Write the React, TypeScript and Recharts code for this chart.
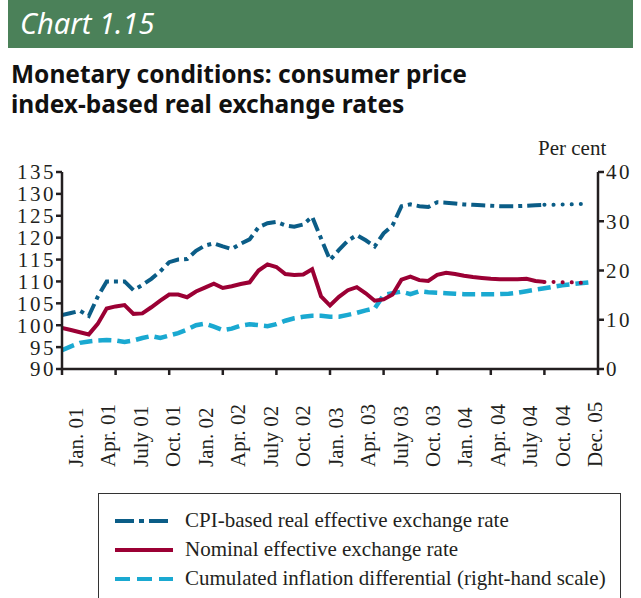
import React from 'react';
import { LineChart, Line, XAxis, YAxis } from 'recharts';

// Monthly observations, Jan. 2001 – Dec. 2005 (index 0 = Jan. 01)
const cpiRealRate: number[] = [
  102.3, 102.8, 103.3, 102.1, 106.5, 110.0, 110.0, 110.0, 108.0, 109.2,
  110.6, 112.3, 114.4, 115.0, 115.1, 117.0, 118.2, 118.7, 118.0, 117.4,
  118.6, 119.6, 122.4, 123.3, 123.6, 122.8, 122.5, 123.0, 124.8, 119.8,
  114.9, 117.2, 119.3, 120.6, 119.4, 118.0, 121.0, 122.8, 127.2, 127.6,
  127.2, 127.0, 128.1, 128.0, 127.8, 127.6, 127.5, 127.4, 127.3, 127.2,
  127.2, 127.2, 127.3, 127.4, 127.5, 127.5, 127.6, 127.6, 127.7, 127.7,
];
const nominalRate: number[] = [
  99.4, 98.9, 98.4, 97.9, 100.3, 103.8, 104.3, 104.6, 102.6, 102.7,
  104.1, 105.6, 107.0, 107.0, 106.4, 107.7, 108.6, 109.5, 108.5, 108.9,
  109.4, 109.8, 112.5, 113.9, 113.3, 111.7, 111.5, 111.6, 112.8, 106.6,
  104.5, 106.5, 108.0, 108.7, 107.3, 105.6, 105.9, 107.0, 110.4, 111.1,
  110.3, 110.1, 111.5, 112.0, 111.7, 111.3, 111.0, 110.8, 110.6, 110.5,
  110.5, 110.5, 110.6, 110.1, 109.9, 109.9, 109.8, 109.8, 109.7, 109.6,
];
const inflationDifferential: number[] = [
  3.8, 4.6, 5.3, 5.6, 5.8, 5.9, 5.8, 5.5, 5.8, 6.3,
  6.7, 6.3, 6.8, 7.3, 8.0, 8.9, 9.2, 8.6, 7.9, 8.2,
  8.8, 9.1, 8.9, 8.7, 9.1, 9.8, 10.3, 10.6, 10.8, 10.8,
  10.6, 10.6, 11.0, 11.4, 11.9, 12.3, 15.0, 15.4, 15.7, 15.2,
  15.8, 15.6, 15.5, 15.4, 15.3, 15.2, 15.2, 15.2, 15.2, 15.2,
  15.3, 15.5, 15.8, 16.1, 16.4, 16.7, 17.0, 17.2, 17.4, 17.6,
];
const projectionStart = 54; // first month drawn dotted

const xLabels: string[] = [
  'Jan. 01', 'Apr. 01', 'July 01', 'Oct. 01', 'Jan. 02', 'Apr. 02', 'July 02', 'Oct. 02',
  'Jan. 03', 'Apr. 03', 'July 03', 'Oct. 03', 'Jan. 04', 'Apr. 04', 'July 04', 'Oct. 04', 'Dec. 05',
];
const leftTicks: number[] = [90, 95, 100, 105, 110, 115, 120, 125, 130, 135];
const rightTicks: number[] = [0, 10, 20, 30, 40];
const xTickMarks: number[] = [0, 6, 12, 18, 24, 30, 36, 42, 48, 54, 60];

const legendItems = [
  { name: 'CPI-based real effective exchange rate', color: '#0b5d87', dash: '19 5 5 5' },
  { name: 'Nominal effective exchange rate', color: '#9b0034', dash: '' },
  { name: 'Cumulated inflation differential (right-hand scale)', color: '#1aa9d1', dash: '15 7' },
];

const data = cpiRealRate.map((v, i) => ({
  i,
  cpi: i <= projectionStart ? v : null,
  cpiProj: i >= projectionStart ? v : null,
  nominal: i <= projectionStart ? nominalRate[i] : null,
  nominalProj: i >= projectionStart ? nominalRate[i] : null,
  infl: inflationDifferential[i],
}));

const SERIF = '"Liberation Serif", "Times New Roman", serif';
const INK = '#231f20';

// label positions spread evenly between the first and last label
const LABEL_START = 1.55;
const LABEL_STEP = (59.7 - LABEL_START) / (xLabels.length - 1);
const labelTicks = xLabels.map((_, k) => LABEL_START + k * LABEL_STEP);
const allXTicks = [...xTickMarks, ...labelTicks];

const XTick = (props: any) => {
  const { x, y, payload } = props;
  const v: number = payload.value;
  const isMark = xTickMarks.some((m) => Math.abs(m - v) < 1e-6);
  if (isMark) {
    return <line x1={x} x2={x} y1={y} y2={y + 6} stroke={INK} strokeWidth={2.5} />;
  }
  const k = Math.round((v - LABEL_START) / LABEL_STEP);
  const ty = y + 98;
  return (
    <text
      x={x + 7}
      y={ty}
      transform={`rotate(-90, ${x + 7}, ${ty})`}
      textAnchor="start"
      fontFamily={SERIF}
      fontSize={21}
      fill={INK}
    >
      {xLabels[k]}
    </text>
  );
};

export default function App() {
  return (
    <div
      style={{
        position: 'absolute',
        left: 0,
        top: 0,
        width: 641,
        height: 598,
        overflow: 'hidden',
        background: '#fff',
      }}
    >
      <div
        style={{
          position: 'absolute',
          left: 8,
          top: 0,
          width: 625,
          height: 48,
          background: '#4b8159',
        }}
      />
      <div
        style={{
          position: 'absolute',
          left: 20,
          top: 6,
          color: '#fff',
          fontFamily: '"Noto Sans", sans-serif',
          fontStyle: 'italic',
          fontSize: 29,
          lineHeight: '34px',
        }}
      >
        Chart 1.15
      </div>
      <div
        style={{
          position: 'absolute',
          left: 11,
          top: 59,
          color: '#111',
          fontFamily: '"Noto Sans", sans-serif',
          fontWeight: 700,
          fontSize: 24.5,
          lineHeight: '30px',
        }}
      >
        Monetary conditions: consumer price
        <br />
        index-based real exchange rates
      </div>
      <div
        style={{
          position: 'absolute',
          left: 538,
          top: 136,
          fontFamily: SERIF,
          fontSize: 21,
          color: INK,
        }}
      >
        Per cent
      </div>

      <div style={{ position: 'absolute', left: 0, top: 0 }}>
        <LineChart
          width={641}
          height={598}
          data={data}
          margin={{ top: 172, right: 3, bottom: 129, left: 12 }}
        >
          <XAxis
            dataKey="i"
            type="number"
            domain={[0, 60]}
            ticks={allXTicks}
            interval={0}
            allowDataOverflow
            tickLine={false}
            tickSize={0}
            tickMargin={0}
            height={100}
            axisLine={{ stroke: INK, strokeWidth: 2.5 }}
            tick={<XTick />}
          />
          <YAxis
            yAxisId="left"
            orientation="left"
            domain={[90, 135]}
            ticks={leftTicks}
            interval={0}
            allowDataOverflow
            width={50}
            tickSize={6}
            tickMargin={0}
            axisLine={{ stroke: INK, strokeWidth: 2.5 }}
            tickLine={{ stroke: INK, strokeWidth: 2.5 }}
            tick={{ fontFamily: SERIF, fontSize: 21, fill: INK, letterSpacing: 2.5 }}
          />
          <YAxis
            yAxisId="right"
            orientation="right"
            domain={[0, 40]}
            ticks={rightTicks}
            interval={0}
            allowDataOverflow
            width={40}
            tickSize={6}
            tickMargin={2}
            axisLine={{ stroke: INK, strokeWidth: 2.5 }}
            tickLine={{ stroke: INK, strokeWidth: 2.5 }}
            tick={{ fontFamily: SERIF, fontSize: 21, fill: INK, letterSpacing: 2.5 }}
          />
          <Line
            yAxisId="right"
            dataKey="infl"
            stroke="#1aa9d1"
            strokeWidth={4.5}
            strokeDasharray="13 6"
            dot={false}
            isAnimationActive={false}
          />
          <Line
            yAxisId="left"
            dataKey="nominal"
            stroke="#9b0034"
            strokeWidth={4}
            dot={false}
            isAnimationActive={false}
          />
          <Line
            yAxisId="left"
            dataKey="nominalProj"
            stroke="#9b0034"
            strokeWidth={4}
            strokeDasharray="0.1 9"
            strokeLinecap="round"
            dot={false}
            isAnimationActive={false}
          />
          <Line
            yAxisId="left"
            dataKey="cpi"
            stroke="#0b5d87"
            strokeWidth={4}
            strokeDasharray="14 5 4 5"
            dot={false}
            isAnimationActive={false}
          />
          <Line
            yAxisId="left"
            dataKey="cpiProj"
            stroke="#0b5d87"
            strokeWidth={4}
            strokeDasharray="0.1 9"
            strokeLinecap="round"
            dot={false}
            isAnimationActive={false}
          />
        </LineChart>
      </div>

      <div
        style={{
          position: 'absolute',
          left: 98,
          top: 493,
          width: 523,
          height: 120,
          border: '1.5px solid #333',
          boxSizing: 'border-box',
        }}
      >
        {legendItems.map((item, idx) => (
          <div
            key={item.name}
            style={{
              position: 'absolute',
              left: 0,
              top: 12 + idx * 29,
              height: 29,
              display: 'flex',
              alignItems: 'center',
              whiteSpace: 'nowrap',
            }}
          >
            <svg width={86} height={20} style={{ display: 'block' }}>
              <line
                x1={16}
                x2={74}
                y1={10}
                y2={10}
                stroke={item.color}
                strokeWidth={4}
                strokeDasharray={item.dash || undefined}
              />
            </svg>
            <span style={{ fontFamily: SERIF, fontSize: 21, color: INK }}>{item.name}</span>
          </div>
        ))}
      </div>
    </div>
  );
}
